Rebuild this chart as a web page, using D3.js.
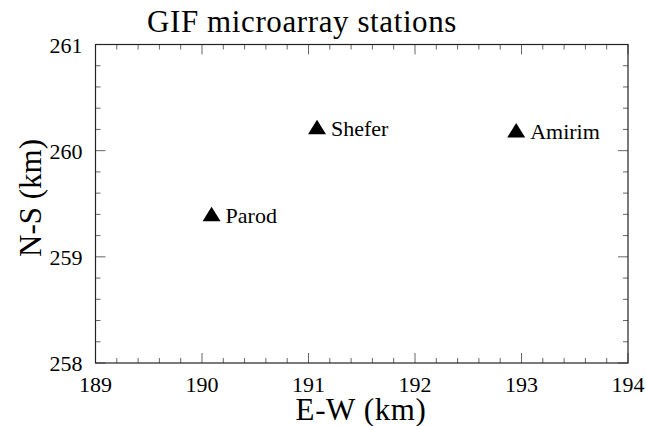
<!DOCTYPE html>
<html>
<head>
<meta charset="utf-8">
<script src="https://cdn.jsdelivr.net/npm/d3@7"></script>
<style>
  body { margin: 0; background: #fff; }
  svg text { font-family: "Liberation Serif", "DejaVu Serif", "Noto Serif", serif; }
</style>
</head>
<body>
<svg class="chart" width="646" height="426"></svg>
<script>
var stations = ["Parod", "Shefer", "Amirim"];
var ewValues = [190.09, 191.08, 192.95];
var nsValues = [259.40, 260.22, 260.19];
var xTicks = [189, 190, 191, 192, 193, 194];
var yTicks = [258, 259, 260, 261];

var svg = d3.select(".chart"),
    margin = { top: 44.5, right: 18, bottom: 63, left: 95.5 },
    width = +svg.attr("width") - margin.left - margin.right,
    height = +svg.attr("height") - margin.top - margin.bottom;

var x = d3.scaleLinear().domain([189, 194]).range([0, width]),
    y = d3.scaleLinear().domain([258, 261]).range([height, 0]);

var g = svg.append("g")
    .attr("transform", "translate(" + margin.left + "," + margin.top + ")");

// minor ticks every 0.2
var xMinor = d3.range(189, 194.001, 0.2).map(function(d) { return +d.toFixed(1); }),
    yMinor = d3.range(258, 261.001, 0.2).map(function(d) { return +d.toFixed(1); });

function isMajor(v) { return Math.abs(v - Math.round(v)) < 1e-6; }

var ticks = g.append("g").attr("stroke", "#666").attr("stroke-width", 1);

// bottom and top ticks
xMinor.forEach(function(v) {
    var len = isMajor(v) ? 10 : 5;
    ticks.append("line").attr("x1", x(v)).attr("x2", x(v)).attr("y1", height).attr("y2", height - len);
    ticks.append("line").attr("x1", x(v)).attr("x2", x(v)).attr("y1", 0).attr("y2", len);
});
// left and right ticks
yMinor.forEach(function(v) {
    var len = isMajor(v) ? 10 : 5;
    ticks.append("line").attr("y1", y(v)).attr("y2", y(v)).attr("x1", 0).attr("x2", len);
    ticks.append("line").attr("y1", y(v)).attr("y2", y(v)).attr("x1", width).attr("x2", width - len);
});

// frame
g.append("rect")
    .attr("x", 0).attr("y", 0)
    .attr("width", width).attr("height", height)
    .attr("fill", "none")
    .attr("stroke", "#222")
    .attr("stroke-width", 1.2);

// tick labels
g.selectAll(".xlab")
    .data(xTicks)
    .enter().append("text")
    .attr("class", "xlab")
    .attr("x", function(d) { return x(d); })
    .attr("y", height + 29)
    .attr("text-anchor", "middle")
    .attr("font-size", 22)
    .text(function(d) { return d; });

g.selectAll(".ylab")
    .data(yTicks)
    .enter().append("text")
    .attr("class", "ylab")
    .attr("x", -13)
    .attr("y", function(d) { return y(d) + 8; })
    .attr("text-anchor", "end")
    .attr("font-size", 22)
    .text(function(d) { return d; });

// axis titles
svg.append("text")
    .attr("x", 361)
    .attr("y", 420)
    .attr("text-anchor", "middle")
    .attr("font-size", 31)
    .attr("letter-spacing", 0.6)
    .text("E-W (km)");

svg.append("text")
    .attr("transform", "translate(41,198) rotate(-90)")
    .attr("text-anchor", "middle")
    .attr("font-size", 31)
    .text("N-S (km)");

svg.append("text")
    .attr("x", 302)
    .attr("y", 32)
    .attr("text-anchor", "middle")
    .attr("font-size", 31)
    .attr("letter-spacing", 0.6)
    .text("GIF microarray stations");

// stations
var pts = stations.map(function(s, i) { return { name: s, ew: ewValues[i], ns: nsValues[i] }; });

g.selectAll(".tri")
    .data(pts)
    .enter().append("path")
    .attr("class", "tri")
    .attr("d", function(d) {
        var cx = x(d.ew), cy = y(d.ns);
        return "M" + cx + "," + (cy - 7.5) + "L" + (cx + 9) + "," + (cy + 7) + "L" + (cx - 9) + "," + (cy + 7) + "Z";
    })
    .attr("fill", "#000");

g.selectAll(".name")
    .data(pts)
    .enter().append("text")
    .attr("class", "name")
    .attr("x", function(d) { return x(d.ew) + 14; })
    .attr("y", function(d) { return y(d.ns) + 9; })
    .attr("font-size", 22)
    .text(function(d) { return d.name; });
</script>
</body>
</html>
